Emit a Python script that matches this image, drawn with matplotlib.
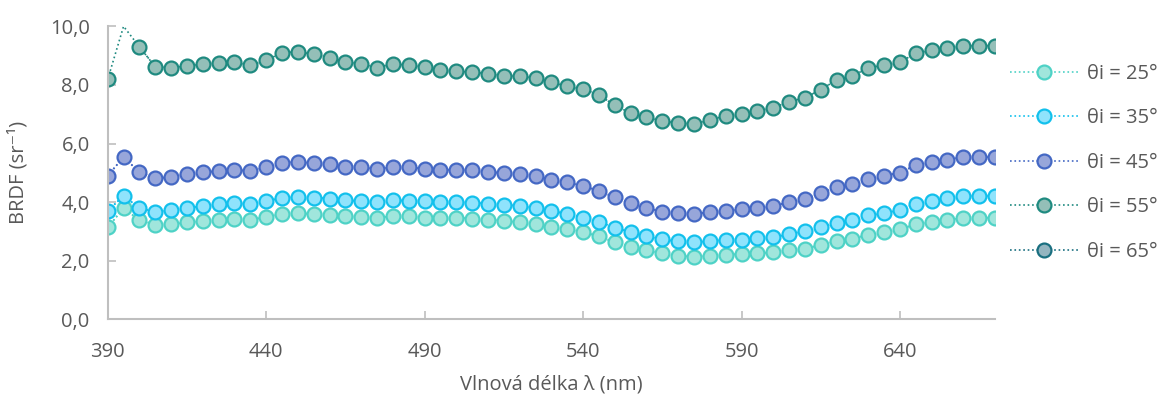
import numpy as np
import matplotlib
matplotlib.use("Agg")
import matplotlib.pyplot as plt
from matplotlib.ticker import FuncFormatter, MultipleLocator

plt.rcParams['font.family'] = ['Open Sans', 'DejaVu Sans']

# wavelengths (nm)
wavelength = np.arange(390, 675, 5)
xticks = [390, 440, 490, 540, 590, 640]

# BRDF values (sr^-1)
theta25 = [3.14, 3.79, 3.39, 3.23, 3.24, 3.31, 3.34, 3.39, 3.41, 3.39,
           3.50, 3.59, 3.63, 3.59, 3.56, 3.53, 3.49, 3.45, 3.54, 3.52,
           3.47, 3.46, 3.47, 3.43, 3.40, 3.37, 3.31, 3.25, 3.15, 3.07,
           2.98, 2.83, 2.63, 2.47, 2.37, 2.25, 2.17, 2.13, 2.17, 2.21,
           2.22, 2.25, 2.29, 2.37, 2.41, 2.54, 2.67, 2.75, 2.89, 2.97,
           3.08, 3.24, 3.31, 3.39, 3.46, 3.46, 3.47]
theta35 = [3.71, 4.21, 3.80, 3.67, 3.72, 3.80, 3.86, 3.92, 3.96, 3.94,
           4.03, 4.15, 4.17, 4.15, 4.12, 4.06, 4.04, 3.99, 4.06, 4.05,
           4.04, 3.99, 4.00, 3.98, 3.95, 3.91, 3.87, 3.81, 3.69, 3.61,
           3.47, 3.33, 3.13, 2.97, 2.83, 2.73, 2.66, 2.63, 2.67, 2.71,
           2.72, 2.76, 2.80, 2.91, 3.00, 3.14, 3.30, 3.40, 3.55, 3.62,
           3.73, 3.95, 4.03, 4.14, 4.21, 4.21, 4.21]
theta45 = [4.90, 5.54, 5.02, 4.81, 4.86, 4.96, 5.02, 5.06, 5.10, 5.06,
           5.19, 5.35, 5.37, 5.33, 5.29, 5.21, 5.19, 5.12, 5.20, 5.19,
           5.13, 5.10, 5.10, 5.09, 5.03, 4.99, 4.96, 4.89, 4.77, 4.67,
           4.55, 4.39, 4.16, 3.96, 3.80, 3.68, 3.62, 3.60, 3.65, 3.71,
           3.75, 3.80, 3.87, 4.00, 4.10, 4.31, 4.50, 4.62, 4.79, 4.89,
           5.01, 5.26, 5.36, 5.45, 5.54, 5.53, 5.54]
theta55 = [8.19, 10.05, 9.30, 8.62, 8.59, 8.65, 8.71, 8.74, 8.79, 8.67,
           8.84, 9.10, 9.13, 9.05, 8.93, 8.79, 8.72, 8.59, 8.72, 8.67,
           8.61, 8.51, 8.46, 8.44, 8.38, 8.31, 8.30, 8.24, 8.09, 7.95,
           7.86, 7.66, 7.30, 7.04, 6.89, 6.77, 6.70, 6.67, 6.80, 6.95,
           7.02, 7.11, 7.22, 7.43, 7.56, 7.84, 8.17, 8.31, 8.58, 8.68,
           8.77, 9.09, 9.18, 9.27, 9.34, 9.33, 9.34]
theta65 = []  # no points visible inside the plotted range

labels = ['θi = 25°', 'θi = 35°', 'θi = 45°', 'θi = 55°', 'θi = 65°']
series = [theta25, theta35, theta45, theta55, theta65]
faces = ['#a0e6dc', '#8fe3fc', '#97a6da', '#94bfb8', '#94b5c0']
edges = ['#4ed2c6', '#12c0ec', '#4468c4', '#1f8a80', '#1a6f80']

ymax = 10.0
txt = '#595959'
fs = 14.5

fig = plt.figure(figsize=(11.62, 3.99), dpi=100)
ax = fig.add_axes([0.0927, 0.1997, 0.7636, 0.7343])

for vals, lab, fc, ec in zip(series, labels, faces, edges):
    v = np.array(vals, dtype=float)
    x = wavelength[:len(v)]
    # line clamped at the axis maximum (like the original), markers only inside
    ax.plot(x, np.minimum(v, ymax), ls=':', lw=1.2, color=ec, clip_on=False)
    ax.plot(x, np.ma.masked_greater(v, ymax), ls=':', lw=1.2, color=ec,
            marker='o', ms=10, mew=1.6, mfc=fc, mec=ec, label=lab)

ax.set_xlim(390, 670)
ax.set_ylim(0, ymax)
ax.set_xticks(xticks)
ax.yaxis.set_major_locator(MultipleLocator(2))
ax.yaxis.set_major_formatter(FuncFormatter(lambda v, p: f'{v:.1f}'.replace('.', ',')))

for s in ['top', 'right']:
    ax.spines[s].set_visible(False)
for s in ['left', 'bottom']:
    ax.spines[s].set_color('#bfbfbf')
    ax.spines[s].set_linewidth(1.5)

ax.tick_params(direction='in', length=6, width=1.2, color='#bfbfbf',
               labelsize=fs, labelcolor=txt)
ax.tick_params(axis='x', pad=16)
ax.tick_params(axis='y', pad=13)

ax.set_xlabel('Vlnová délka λ (nm)', fontsize=fs, color=txt)
ax.set_ylabel('BRDF (sr⁻¹)', fontsize=fs, color=txt)
ax.xaxis.set_label_coords(0.5, -0.221)
ax.xaxis.label.set_va('center')
ax.yaxis.set_label_coords(-0.101, 0.5)
ax.yaxis.label.set_va('center')

leg = fig.legend(loc='center left', bbox_to_anchor=(0.869, 0.592), frameon=False,
                 fontsize=fs, numpoints=1, handlelength=3.4, labelspacing=1.22,
                 handletextpad=0.45, borderaxespad=0.0, borderpad=0.0)
for t in leg.get_texts():
    t.set_color(txt)

fig.savefig('out.png', dpi=100)
